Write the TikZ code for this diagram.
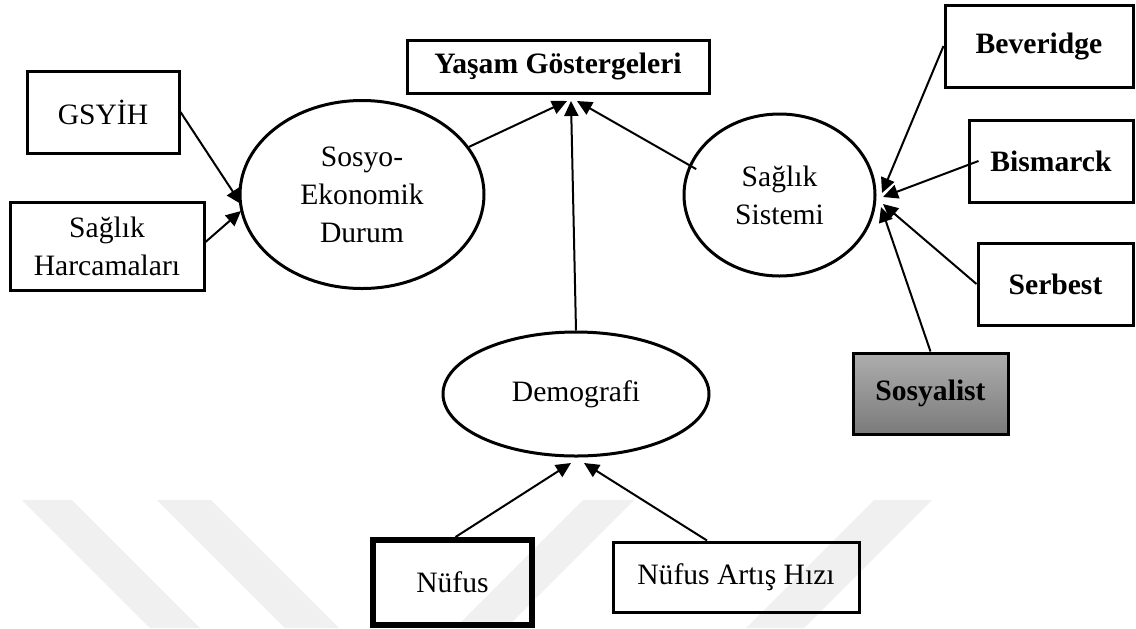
\documentclass[tikz,border=0pt]{standalone}
\usepackage{fontspec}
\setmainfont{Liberation Serif}
\usetikzlibrary{arrows.meta,shapes.geometric}
\begin{document}
\begin{tikzpicture}[x=0.5pt,y=-0.5pt,
  txt/.style={font=\fontsize{14.8}{19}\selectfont},
  btxt/.style={font=\fontsize{14.8}{19}\selectfont\bfseries},
  box/.style={txt,draw,line width=1.5pt,rectangle,inner sep=0pt,align=center},
  ell/.style={txt,draw,line width=1.5pt,ellipse,inner sep=0pt,align=center},
  conn/.style={line width=1pt,-{Triangle[length=7.5pt,width=7pt]}},
  wm/.style={fill=black!6,draw=none}]
\useasboundingbox[fill=white] (0,0) rectangle (1136,628);
% watermark stripes
\fill[wm] (22,500) -- (72,500) -- (200,628) -- (150,628) -- cycle;
\fill[wm] (157,500) -- (211,500) -- (339,628) -- (285,628) -- cycle;
\fill[wm] (583,500) -- (634,500) -- (506,628) -- (455,628) -- cycle;
\fill[wm] (874,500) -- (932,500) -- (804,628) -- (746,628) -- cycle;
% nodes
\node[box,minimum width=76pt,minimum height=41pt] (gsyih) at (103,112) {GSYİH};
\node[box,minimum width=97pt,minimum height=44pt] (harc) at (107,246) {Sağlık\\Harcamaları};
\node[box,btxt,minimum width=151pt,minimum height=26.5pt] (yasam) at (558,66.5) {Yaşam Göstergeleri};
\node[box,btxt,minimum width=94pt,minimum height=41pt] (bev) at (1039,46) {Beveridge};
\node[box,btxt,minimum width=82pt,minimum height=41pt] (bis) at (1051,161) {Bismarck};
\node[box,btxt,minimum width=77.5pt,minimum height=41pt] (ser) at (1055.5,284) {Serbest};
\node[box,btxt,minimum width=77.5pt,minimum height=40.5pt,top color=black!32,bottom color=black!52] (sos) at (930.5,393.5) {Sosyalist};
\node[box,line width=3pt,minimum width=79.5pt,minimum height=42.5pt] (nuf) at (452.5,582.5) {Nüfus};
\node[box,minimum width=123pt,minimum height=35pt] (art) at (736,577) {Nüfus Artış Hızı};
\node[ell,minimum width=122pt,minimum height=94pt] (seko) at (362,194.5) {Sosyo-\\Ekonomik\\Durum};
\node[ell,minimum width=95.5pt,minimum height=81pt] (ssis) at (779.5,195) {Sağlık\\Sistemi};
\node[ell,minimum width=133pt,minimum height=62pt] (demo) at (576,394) {Demografi};
% arrow targets
\coordinate (y1) at (567,101);
\coordinate (y2) at (571,101);
\coordinate (y3) at (577,101);
\coordinate (s1) at (882,193);
\coordinate (s2) at (883,197);
\coordinate (s3) at (883,204);
\coordinate (s4) at (881,207);
\coordinate (d1) at (571,463);
\coordinate (d2) at (584,463);
\coordinate (e1) at (241,204);
\coordinate (e2) at (241,211);
% connectors
\draw[conn] (gsyih.east) -- (e1);
\draw[conn] ([yshift=2pt]harc.east) -- (e2);
\draw[conn] (seko.24) -- (y1);
\draw[conn] (demo.north) -- (y2);
\draw[conn] ([xshift=4pt,yshift=-1pt]ssis.163) -- (y3);
\draw[conn] (bev.west) -- (s1);
\draw[conn] ([xshift=5.5pt]bis.west) -- (s2);
\draw[conn] (ser.west) -- (s3);
\draw[conn] (sos.north) -- (s4);
\draw[conn] ([xshift=1.5pt]nuf.north) -- (d1);
\draw[conn] ([xshift=-14.5pt]art.north) -- (d2);
\end{tikzpicture}
\end{document}
